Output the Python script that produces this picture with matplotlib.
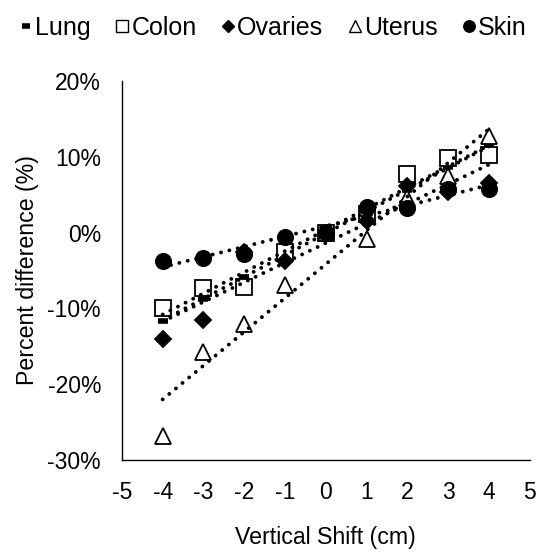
import numpy as np
import matplotlib
matplotlib.use("Agg")
import matplotlib.pyplot as plt
from matplotlib.lines import Line2D

plt.rcParams['font.family'] = ['Liberation Sans', 'DejaVu Sans']
plt.rcParams['axes.unicode_minus'] = False

shift = [-4, -3, -2, -1, 0, 1, 2, 3, 4]

lung = [-11.6, -8.7, -5.8, -3.0, 0.0, 2.7, 5.6, 8.6, 11.4]
colon = [-10.0, -7.3, -7.2, -2.6, 0.0, 2.5, 7.8, 9.9, 10.2]
ovaries = [-14.0, -11.5, -2.5, -3.8, 0.0, 1.5, 6.1, 5.3, 6.6]
uterus = [-26.8, -15.8, -12.0, -6.9, 0.0, -0.8, 4.6, 7.5, 12.8]
skin = [-3.7, -3.3, -2.8, -0.6, 0.0, 3.4, 3.3, 5.7, 5.8]

names = ["Lung", "Colon", "Ovaries", "Uterus", "Skin"]
series = [lung, colon, ovaries, uterus, skin]
markers = ["_", "s", "D", "^", "o"]
faces = ["black", "white", "black", "white", "black"]
sizes = [7, 11, 8, 11, 11]

fig = plt.figure(figsize=(5.44, 5.53), dpi=100)
ax = fig.add_axes([0.224, 0.168, 0.75, 0.6855])

handles = []
for name, vals, m, fc, ms in zip(names, series, markers, faces, sizes):
    mew = 4 if m == "_" else 1.3
    ax.plot(shift, np.array(vals) / 100, linestyle="none", marker=m, ms=ms,
            mfc=fc, mec="black", mew=mew, zorder=2)
    # linear trendline like excel
    k, b = np.polyfit(shift, vals, 1)
    xx = np.array([shift[0], shift[-1]])
    ax.plot(xx, (k * xx + b) / 100, color="black", lw=2.8,
            linestyle=(0, (0.01, 2.2)), dash_capstyle="round", zorder=3)
    handles.append(Line2D([], [], linestyle="none", marker=m,
                          ms=ms * 0.75 if m != "_" else 6, mfc=fc, mec="black",
                          mew=mew if m == "_" else 1.0, label=name))

ax.set_xlim(-5, 5)
ax.set_ylim(-0.30, 0.20)
ax.set_xticks(range(-5, 6))
ax.set_yticks([-0.3, -0.2, -0.1, 0.0, 0.1, 0.2])
ax.set_yticklabels(["-30%", "-20%", "-10%", "0%", "10%", "20%"])
ax.tick_params(length=0, labelsize=16.5, pad=15)
for s in ["top", "right"]:
    ax.spines[s].set_visible(False)
for s in ["left", "bottom"]:
    ax.spines[s].set_linewidth(1.0)
    ax.spines[s].set_color("black")

ax.set_xlabel("Vertical Shift (cm)", fontsize=16.7, labelpad=16)
ax.set_ylabel("Percent difference (%)", fontsize=16.7, labelpad=6)

fig.legend(handles=handles, loc="upper left", bbox_to_anchor=(0.018, 0.99),
           ncol=5, frameon=False, fontsize=18, handlelength=0.5,
           handletextpad=0.12, columnspacing=1.0, borderaxespad=0)

fig.savefig("out.png", dpi=100)
